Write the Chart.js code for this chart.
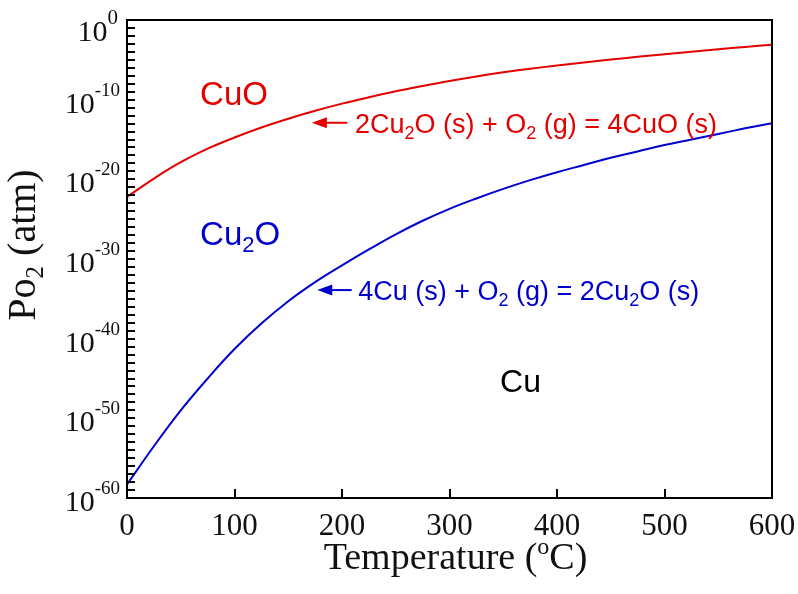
<!DOCTYPE html>
<html><head><meta charset="utf-8">
<script src="https://cdn.jsdelivr.net/npm/chart.js@4"></script>
<style>html,body{margin:0;padding:0;background:#fff}#wrap{width:798px;height:594px}</style>
</head><body><div id="wrap"><canvas id="c" width="798" height="594"></canvas></div>
<script>
// ---- data ----
const temperatureC = [0, 25, 50, 75, 100, 125, 150, 175, 200, 225, 250, 275, 300,
                      325, 350, 375, 400, 425, 450, 475, 500, 525, 550, 575, 600];
// log10 of equilibrium PO2 (atm)
const cuoLogPo2  = [-22.2, -19.9, -17.85, -16.15, -14.75, -13.5, -12.4, -11.4, -10.5, -9.7, -8.95, -8.28, -7.65,
                    -7.08, -6.57, -6.12, -5.72, -5.33, -4.97, -4.62, -4.3, -3.98, -3.67, -3.38, -3.1];
const cu2oLogPo2 = [-58.3, -53.5, -49.0, -45.0, -41.3, -38.1, -35.3, -32.9, -30.8, -28.8, -26.9, -25.2, -23.7,
                    -22.4, -21.2, -20.1, -19.1, -18.2, -17.3, -16.5, -15.7, -15.0, -14.3, -13.6, -12.95];
const xTickValues = [0, 100, 200, 300, 400, 500, 600];
const yTickExponents = [0, -10, -20, -30, -40, -50, -60];

const RED = '#e30000', BLUE = '#0000cc';
const SERIF = '"Liberation Serif", "Times New Roman", serif';
const SANS = '"Liberation Sans", Arial, sans-serif';

const cuoData = temperatureC.map((t, i) => ({x: t, y: Math.pow(10, cuoLogPo2[i])}));
const cu2oData = temperatureC.map((t, i) => ({x: t, y: Math.pow(10, cu2oLogPo2[i])}));

function richWidth(ctx, segs) {
  let w = 0;
  for (const s of segs) { ctx.font = s.size + 'px ' + s.family; w += ctx.measureText(s.t).width; }
  return w;
}
function drawRich(ctx, segs, x, y, align, color) {
  const w = richWidth(ctx, segs);
  let cx = align === 'center' ? x - w / 2 : (align === 'right' ? x - w : x);
  ctx.fillStyle = color; ctx.textBaseline = 'alphabetic'; ctx.textAlign = 'left';
  for (const s of segs) {
    ctx.font = s.size + 'px ' + s.family;
    ctx.fillText(s.t, cx, y + (s.dy || 0));
    cx += ctx.measureText(s.t).width;
  }
}
function sans(t, size, dy) { return {t, size, dy: dy || 0, family: SANS}; }
function serif(t, size, dy) { return {t, size, dy: dy || 0, family: SERIF}; }

const decorPlugin = {
  id: 'decor',
  afterDraw(chart) {
    const ctx = chart.ctx, a = chart.chartArea;
    const xs = chart.scales.x, ys = chart.scales.y;
    const px = v => xs.getPixelForValue(v);
    const py = e => ys.getPixelForValue(Math.pow(10, e));
    ctx.save();
    // frame
    ctx.strokeStyle = '#000'; ctx.lineWidth = 2;
    ctx.strokeRect(a.left, a.top, a.right - a.left, a.bottom - a.top);
    // ticks (inward): y every decade, x every 100
    ctx.beginPath();
    for (let e = -59; e <= -1; e++) {
      const y = Math.round(py(e));
      ctx.moveTo(a.left, y); ctx.lineTo(a.left + 8, y);
    }
    for (const v of xTickValues.slice(1, -1)) {
      const x = Math.round(px(v));
      ctx.moveTo(x, a.bottom); ctx.lineTo(x, a.bottom - 9);
    }
    ctx.stroke();
    // x tick labels
    ctx.fillStyle = '#111'; ctx.textAlign = 'center'; ctx.textBaseline = 'alphabetic';
    ctx.font = '31px ' + SERIF;
    for (const v of xTickValues) ctx.fillText(String(v), px(v), a.bottom + 37);
    // y tick labels 10^n
    for (const e of yTickExponents) {
      const y = py(e);
      const isTop = e === 0;
      const supT = e === 0 ? '0' : '-' + Math.abs(e);
      const supSize = isTop ? 21 : 19;
      ctx.font = supSize + 'px ' + SERIF;
      const supW = ctx.measureText(supT).width;
      const rightEdge = a.left - (isTop ? 9 : 7);
      const base = y + (isTop ? 21 : 13);
      ctx.fillStyle = '#111'; ctx.textAlign = 'right'; ctx.textBaseline = 'alphabetic';
      ctx.font = '30px ' + SERIF;
      ctx.fillText('10', rightEdge - supW, base);
      ctx.textAlign = 'left';
      ctx.font = supSize + 'px ' + SERIF;
      ctx.fillText(supT, rightEdge - supW, base - 17);
    }
    // axis titles
    drawRich(ctx, [serif('Temperature (', 38), serif('o', 24, -15), serif('C)', 38)],
      (a.left + a.right) / 2 + 6, 569, 'center', '#111');
    ctx.save();
    ctx.translate(35, 245);
    ctx.rotate(-Math.PI / 2);
    drawRich(ctx, [serif('Po', 40), serif('2', 25, 8), serif(' (atm)', 40)], 0, 0, 'center', '#111');
    ctx.restore();

    // region labels
    drawRich(ctx, [sans('CuO', 33)], px(68), py(-10.67), 'left', RED);
    drawRich(ctx, [sans('Cu', 33), sans('2', 22, 7), sans('O', 33)], px(68), py(-28.2), 'left', BLUE);
    drawRich(ctx, [sans('Cu', 32)], px(347), py(-46.7), 'left', '#000');

    // arrows + reactions
    function arrow(tipT, tailT, e, color) {
      const x1 = px(tipT), x2 = px(tailT), y = py(e);
      ctx.strokeStyle = color; ctx.fillStyle = color; ctx.lineWidth = 2;
      ctx.beginPath(); ctx.moveTo(x1 + 12, y); ctx.lineTo(x2, y); ctx.stroke();
      ctx.beginPath(); ctx.moveTo(x1, y); ctx.lineTo(x1 + 15, y - 5.5); ctx.lineTo(x1 + 15, y + 5.5); ctx.closePath(); ctx.fill();
    }
    arrow(172, 205, -12.9, RED);
    drawRich(ctx, [sans('2Cu', 27), sans('2', 18, 6), sans('O (s) + O', 27), sans('2', 18, 6),
      sans(' (g) = 4CuO (s)', 27)], px(212), py(-14.2), 'left', RED);
    arrow(177, 209, -33.9, BLUE);
    drawRich(ctx, [sans('4Cu (s) + O', 27), sans('2', 18, 6), sans(' (g) = 2Cu', 27), sans('2', 18, 6),
      sans('O (s)', 27)], px(215), py(-35.1), 'left', BLUE);
    ctx.restore();
  }
};

new Chart(document.getElementById('c'), {
  type: 'line',
  data: {
    datasets: [
      {label: '2Cu2O + O2 = 4CuO', data: cuoData, borderColor: RED, borderWidth: 2, pointRadius: 0,
       tension: 0.4, fill: false},
      {label: '4Cu + O2 = 2Cu2O', data: cu2oData, borderColor: BLUE, borderWidth: 2, pointRadius: 0,
       tension: 0.4, fill: false}
    ]
  },
  options: {
    responsive: false, animation: false, devicePixelRatio: 1,
    layout: {padding: {top: 20, right: 26, left: 0, bottom: 0}},
    plugins: {legend: {display: false}, tooltip: {enabled: false}},
    scales: {
      x: {
        type: 'linear', min: 0, max: 600,
        afterBuildTicks: s => { s.ticks = xTickValues.map(v => ({value: v})); },
        ticks: {display: false},
        grid: {display: false, drawTicks: false},
        border: {display: false},
        afterFit: s => { s.height = 96; }
      },
      y: {
        type: 'logarithmic', min: 1e-60, max: 1,
        afterBuildTicks: s => { s.ticks = yTickExponents.map(e => ({value: Math.pow(10, e), major: true})); },
        ticks: {display: false},
        grid: {display: false, drawTicks: false},
        border: {display: false},
        afterFit: s => { s.width = 127; }
      }
    }
  },
  plugins: [decorPlugin]
});
</script>
</body></html>
